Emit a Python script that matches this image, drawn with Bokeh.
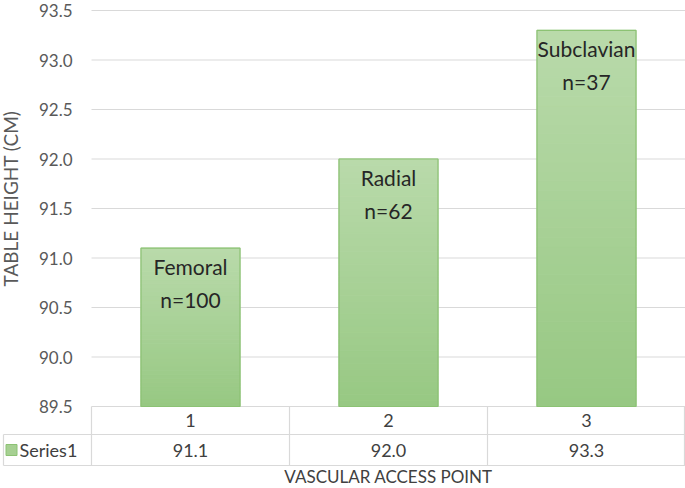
import numpy as np
from bokeh.plotting import figure
from bokeh.models import Range1d
from bokeh.embed import file_html
from bokeh.resources import INLINE
from bokeh.core.properties import value

# ---- data ----
categories = ["1", "2", "3"]
access_points = ["Femoral", "Radial", "Subclavian"]
counts = [100, 62, 37]
heights = [91.1, 92.0, 93.3]
series_name = "Series1"
y_ticks = [89.5, 90.0, 90.5, 91.0, 91.5, 92.0, 92.5, 93.0, 93.5]
x_title = "VASCULAR ACCESS POINT"
y_title = "TABLE HEIGHT (CM)"

# ---- layout (pixels) ----
FONT = "Lato"
W, H = 685, 487
LEFT = 91                 # start of plotting area
TOP = 10                  # pixel row of the top tick
BOTTOM = 406              # pixel row of the bottom tick (table top)
ROW1, ROW2 = 28, 31       # table row heights
TABLE_LEFT = 3
PX = (W - LEFT) / len(categories)
Y0, Y1 = y_ticks[0], y_ticks[-1]
PY = (BOTTOM - TOP) / (Y1 - Y0)


def dx(px):
    return px / PX


def fy(row):           # pixel row -> data y
    return Y1 - (row - TOP) / PY


x_start = -dx(LEFT)
n = len(categories)
p = figure(width=W, height=H, x_range=Range1d(x_start, n),
           y_range=Range1d(fy(H), fy(0)), output_backend="svg", toolbar_location=None,
           min_border=0)
p.axis.visible = False
p.grid.visible = False
p.outline_line_color = None

GRID = "#d9d9d9"
TXT = "#404040"
TOP_C = np.array([0xB9, 0xDA, 0xAB])
BOT_C = np.array([0x97, 0xC8, 0x82])
EDGE = "#8cc274"

# gridlines + tick labels
p.segment(x0=[0] * len(y_ticks), x1=[n] * len(y_ticks), y0=y_ticks, y1=y_ticks,
          line_color=GRID, line_width=1.2)
p.text(x=[dx(-19)] * len(y_ticks), y=y_ticks, text=[f"{v:.1f}" for v in y_ticks],
       text_align="right", text_baseline="middle", text_font=value(FONT),
       text_font_size="17px", text_color="#595959")
p.text(x=[x_start + dx(10)], y=[fy(198)], text=[y_title], angle=np.pi / 2,
       text_align="center", text_baseline="middle", text_font=value(FONT),
       text_font_size="19px", text_color="#595959")

# gradient bars built from the data values
N = 40
lefts, rights, bottoms, tops, colors = [], [], [], [], []
for i, h in enumerate(heights):
    edges = np.linspace(Y0, h, N + 1)
    for k in range(N):
        t = (k + 0.5) / N
        c = BOT_C + (TOP_C - BOT_C) * t
        lefts.append(i + 0.25)
        rights.append(i + 0.75)
        bottoms.append(edges[k])
        tops.append(edges[k + 1])
        colors.append("#%02x%02x%02x" % tuple(int(round(v)) for v in c))
p.quad(left=lefts, right=rights, bottom=bottoms, top=tops, fill_color=colors,
       line_color=colors, line_width=1)
centers = [i + 0.5 for i in range(n)]
p.quad(left=[c - 0.25 for c in centers], right=[c + 0.25 for c in centers],
       bottom=[Y0] * n, top=heights, fill_color=None, line_color=EDGE, line_width=1.2)

bar_labels = [f"{a}\nn={c}" for a, c in zip(access_points, counts)]
p.text(x=centers, y=heights, text=bar_labels, text_align="center", text_baseline="top",
       y_offset=6, text_font=value(FONT), text_font_size="21px", text_line_height=1.3,
       text_color="#262626")

# ---- data table ----
r0 = fy(BOTTOM)
r1 = fy(BOTTOM + ROW1)
r2 = fy(BOTTOM + ROW1 + ROW2)
xl = x_start + dx(TABLE_LEFT)
xr = n - dx(1)
p.segment(x0=[xl, xl, 0, 1, 2, xl, xr],
          y0=[r1, r2, r2, r2, r2, r2, r2],
          x1=[n, n, 0, 1, 2, xl, xr],
          y1=[r1, r2, r0, r0, r0, r1, r0], line_color=GRID, line_width=1.2)
mid1 = (r0 + r1) / 2
mid2 = (r1 + r2) / 2
p.scatter(x=[x_start + dx(11)], y=[mid2], marker="square", size=11,
          fill_color="#a6d092", line_color=EDGE)
p.text(x=[x_start + dx(19)], y=[mid2], text=[series_name], text_align="left",
       text_baseline="middle", text_font=value(FONT), text_font_size="18px", text_color=TXT)
p.text(x=centers, y=[mid1] * n, text=categories, text_align="center", text_baseline="middle",
       text_font=value(FONT), text_font_size="18px", text_color=TXT)
p.text(x=centers, y=[mid2] * n, text=[f"{v:.1f}" for v in heights], text_align="center",
       text_baseline="middle", text_font=value(FONT), text_font_size="18px", text_color=TXT)
p.text(x=[n / 2], y=[fy(476)], text=[x_title], text_align="center",
       text_baseline="middle", text_font=value(FONT), text_font_size="17px", text_color=TXT)

open("out.html", "w").write(file_html(p, INLINE))
